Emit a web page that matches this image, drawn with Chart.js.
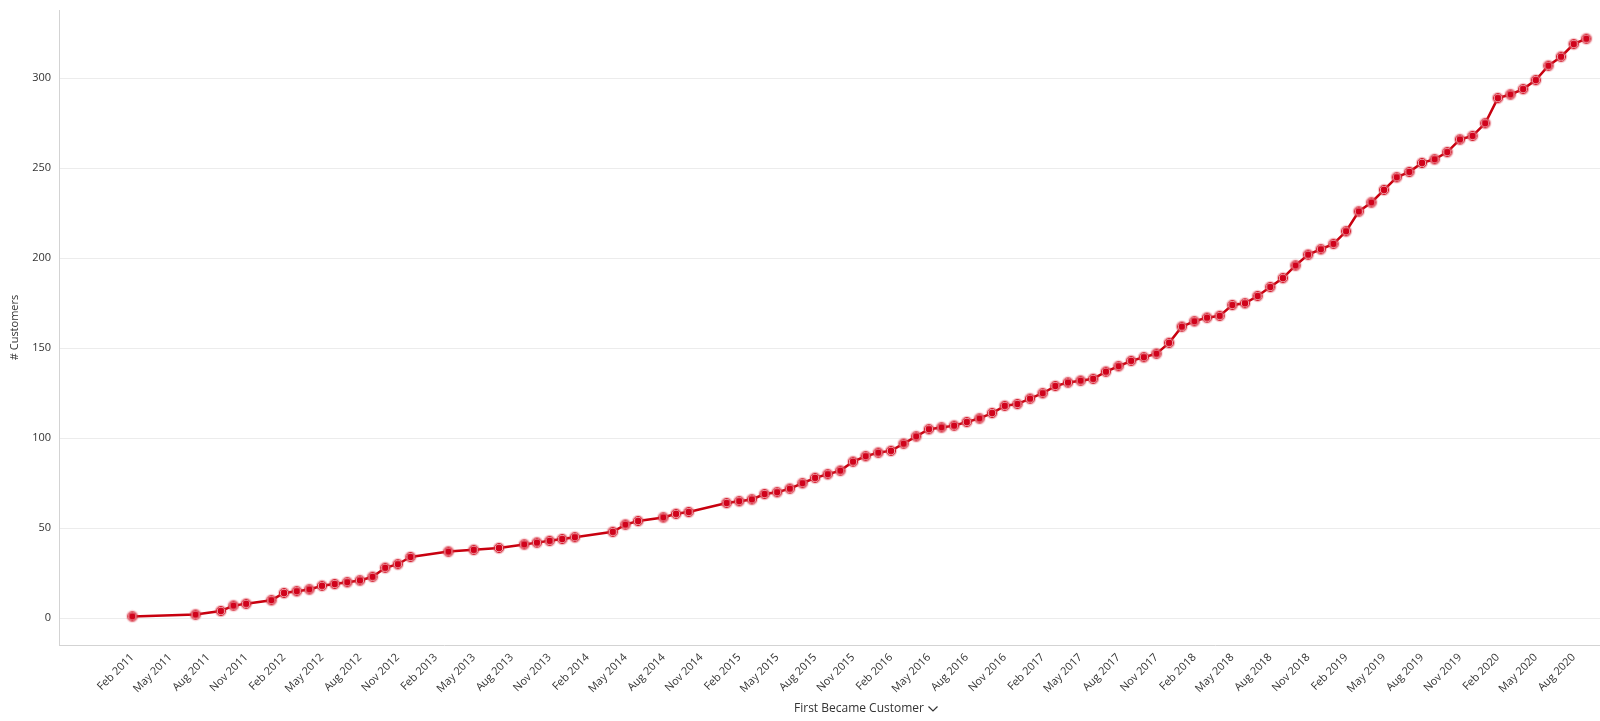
<!DOCTYPE html>
<html>
<head>
<meta charset="utf-8">
<script src="https://cdn.jsdelivr.net/npm/chart.js@4"></script>
<style>
  html, body { margin: 0; padding: 0; background: #fff; overflow: hidden; }
  #wrap { width: 1600px; height: 721px; }
</style>
</head>
<body>
<div id="wrap"><canvas id="chart"></canvas></div>
<script>
// month of first purchase (yyyy-mm), only months that have data
const months = [
  "2011-02", "2011-07", "2011-09", "2011-10", "2011-11",
  "2012-01", "2012-02", "2012-03", "2012-04", "2012-05", "2012-06",
  "2012-07", "2012-08", "2012-09", "2012-10", "2012-11", "2012-12",
  "2013-03", "2013-05", "2013-07", "2013-09", "2013-10", "2013-11", "2013-12",
  "2014-01", "2014-04", "2014-05", "2014-06", "2014-08", "2014-09", "2014-10",
  "2015-01", "2015-02", "2015-03", "2015-04", "2015-05", "2015-06",
  "2015-07", "2015-08", "2015-09", "2015-10", "2015-11", "2015-12",
  "2016-01", "2016-02", "2016-03", "2016-04", "2016-05", "2016-06",
  "2016-07", "2016-08", "2016-09", "2016-10", "2016-11", "2016-12",
  "2017-01", "2017-02", "2017-03", "2017-04", "2017-05", "2017-06",
  "2017-07", "2017-08", "2017-09", "2017-10", "2017-11", "2017-12",
  "2018-01", "2018-02", "2018-03", "2018-04", "2018-05", "2018-06",
  "2018-07", "2018-08", "2018-09", "2018-10", "2018-11", "2018-12",
  "2019-01", "2019-02", "2019-03", "2019-04", "2019-05", "2019-06",
  "2019-07", "2019-08", "2019-09", "2019-10", "2019-11", "2019-12",
  "2020-01", "2020-02", "2020-03", "2020-04", "2020-05", "2020-06",
  "2020-07", "2020-08", "2020-09"
];

// cumulative # customers
const customers = [
  1, 2, 4, 7, 8,
  10, 14, 15, 16, 18, 19,
  20, 21, 23, 28, 30, 34,
  37, 38, 39, 41, 42, 43, 44,
  45, 48, 52, 54, 56, 58, 59,
  64, 65, 66, 69, 70, 72,
  75, 78, 80, 82, 87, 90,
  92, 93, 97, 101, 105, 106,
  107, 109, 111, 114, 118, 119,
  122, 125, 129, 131, 132, 133,
  137, 140, 143, 145, 147, 153,
  162, 165, 167, 168, 174, 175,
  179, 184, 189, 196, 202, 205,
  208, 215, 226, 231, 238, 245,
  248, 253, 255, 259, 266, 268,
  275, 289, 291, 294, 299, 307,
  312, 319, 322
];

const tickLabels = [
  "Feb 2011", "May 2011", "Aug 2011", "Nov 2011",
  "Feb 2012", "May 2012", "Aug 2012", "Nov 2012",
  "Feb 2013", "May 2013", "Aug 2013", "Nov 2013",
  "Feb 2014", "May 2014", "Aug 2014", "Nov 2014",
  "Feb 2015", "May 2015", "Aug 2015", "Nov 2015",
  "Feb 2016", "May 2016", "Aug 2016", "Nov 2016",
  "Feb 2017", "May 2017", "Aug 2017", "Nov 2017",
  "Feb 2018", "May 2018", "Aug 2018", "Nov 2018",
  "Feb 2019", "May 2019", "Aug 2019", "Nov 2019",
  "Feb 2020", "May 2020", "Aug 2020"
];

const yTicks = [0, 50, 100, 150, 200, 250, 300];

const MON = ["Jan","Feb","Mar","Apr","May","Jun","Jul","Aug","Sep","Oct","Nov","Dec"];

// months counted from Feb 2011
function monthIndex(y, m) {
  return (y - 2011) * 12 + (m - 2);
}
function fromKey(s) {
  const p = s.split("-").map(Number);
  return monthIndex(p[0], p[1]);
}
function fromLabel(s) {
  const p = s.split(" ");
  return monthIndex(Number(p[1]), MON.indexOf(p[0]) + 1);
}

const points = months.map((m, i) => ({ x: fromKey(m), y: customers[i] }));
const tickValues = tickLabels.map(fromLabel);

// marker: red dot with a pale ring and pink halo
function makeMarker() {
  const c = document.createElement("canvas");
  c.width = 14;
  c.height = 14;
  const g = c.getContext("2d");
  g.beginPath();
  g.arc(7, 7, 6.2, 0, Math.PI * 2);
  g.fillStyle = "rgba(225, 70, 85, 0.3)";
  g.fill();
  g.beginPath();
  g.arc(7, 7, 4.6, 0, Math.PI * 2);
  g.fillStyle = "#fde6e8";
  g.fill();
  g.lineWidth = 1;
  g.strokeStyle = "#d21a2a";
  g.stroke();
  g.beginPath();
  g.arc(7, 7, 3.4, 0, Math.PI * 2);
  g.fillStyle = "#d0021b";
  g.fill();
  return c;
}

// x title drawn by hand so the chevron can sit after it
const xTitle = {
  id: "xTitle",
  afterDraw(chart) {
    const ctx = chart.ctx;
    ctx.save();
    ctx.font = "12px 'Open Sans', sans-serif";
    ctx.fillStyle = "#333";
    ctx.textBaseline = "middle";
    const text = "First Became Customer";
    const w = ctx.measureText(text).width;
    const x0 = 859 - w / 2;
    const y = 709;
    ctx.fillText(text, x0, y);
    const cx = x0 + w + 9;
    ctx.beginPath();
    ctx.moveTo(cx - 4.5, y - 2.5);
    ctx.lineTo(cx, y + 2);
    ctx.lineTo(cx + 4.5, y - 2.5);
    ctx.strokeStyle = "#333";
    ctx.lineWidth = 1.2;
    ctx.stroke();
    ctx.restore();
  }
};

Chart.defaults.font.family = "'Open Sans', sans-serif";
Chart.defaults.color = "#333";

new Chart(document.getElementById("chart"), {
  type: "line",
  data: {
    datasets: [{
      data: points,
      borderColor: "#c8000f",
      borderWidth: 2.5,
      tension: 0,
      pointStyle: makeMarker(),
      pointRadius: 7,
      pointHoverRadius: 7,
      fill: false
    }]
  },
  options: {
    responsive: true,
    maintainAspectRatio: false,
    animation: false,
    layout: {
      autoPadding: false,
      padding: { top: 10, right: 0, left: 0, bottom: 0 }
    },
    plugins: {
      legend: { display: false },
      tooltip: { enabled: false }
    },
    scales: {
      x: {
        type: "linear",
        min: -5.8,
        max: 116.08,
        afterBuildTicks: axis => { axis.ticks = tickValues.map(v => ({ value: v })); },
        afterFit: scale => {
          scale.height = 76;
          scale.paddingLeft = 0;
          scale.paddingRight = 0;
        },
        grid: { display: false, drawTicks: false },
        border: { display: true, color: "#d3d3d3", width: 1 },
        ticks: {
          autoSkip: false,
          maxRotation: 45,
          minRotation: 45,
          padding: 6,
          font: { size: 11 },
          color: "#333",
          callback: (v, i) => tickLabels[i]
        }
      },
      y: {
        min: -14.89,
        max: 337.95,
        afterBuildTicks: axis => { axis.ticks = yTicks.map(v => ({ value: v })); },
        afterFit: scale => {
          scale.width = 59;
          scale.paddingTop = 0;
          scale.paddingBottom = 0;
        },
        grid: { color: "#ececec", drawTicks: false },
        border: { display: true, color: "#d3d3d3", width: 1 },
        ticks: {
          padding: 8,
          font: { size: 11 },
          color: "#333"
        },
        title: {
          display: true,
          text: "# Customers",
          font: { size: 11 },
          color: "#333",
          padding: { top: 8, bottom: 0 }
        }
      }
    }
  },
  plugins: [xTitle]
});
</script>
</body>
</html>
